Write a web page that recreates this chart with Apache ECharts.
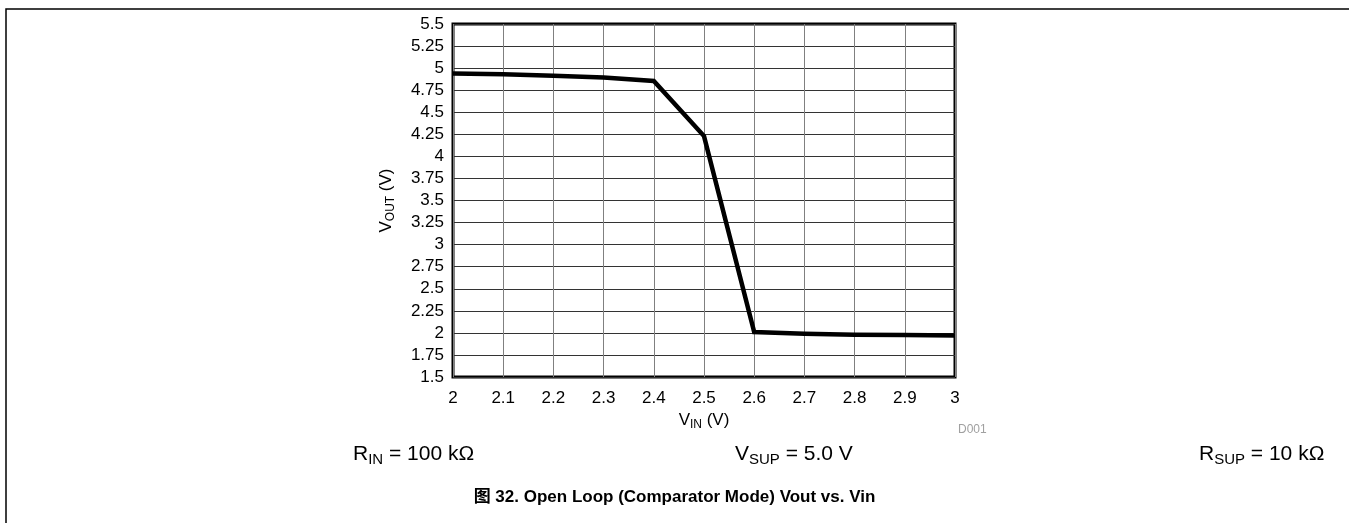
<!DOCTYPE html>
<html>
<head>
<meta charset="utf-8">
<script src="https://cdn.jsdelivr.net/npm/echarts@6/dist/echarts.min.js"></script>
<style>
  html, body { margin: 0; padding: 0; background: #fff; }
  #chart { width: 1349px; height: 523px; }
</style>
</head>
<body>
<div id="chart"></div>
<script>
// Vin (V) vs Vout (V)
const vin = [2.0, 2.1, 2.2, 2.3, 2.4, 2.5, 2.6, 2.7, 2.8, 2.9, 3.0];
const vout = [4.94, 4.93, 4.915, 4.895, 4.855, 4.23, 2.01, 1.99, 1.98, 1.975, 1.97];

const xTicks = { min: 2, max: 3, step: 0.1 };
const yTicks = { min: 1.5, max: 5.5, step: 0.25 };

const FONT = '"Liberation Sans", Arial, "Noto Sans CJK SC", sans-serif';

// sub-scripted labels share this rich style
function richStyle(size, subSize, shift) {
  return {
    b: { fontSize: size, fontFamily: FONT, color: '#000', verticalAlign: 'top', lineHeight: size },
    s: { fontSize: subSize, fontFamily: FONT, color: '#000', verticalAlign: 'top', lineHeight: subSize, padding: [shift, 0, 0, 0] }
  };
}

const chart = echarts.init(document.getElementById('chart'), null, { renderer: 'canvas' });

const option = {
  animation: false,
  backgroundColor: '#fff',
  grid: {
    left: 453, top: 24, width: 502, height: 353,
    show: true, borderColor: '#000', borderWidth: 3, backgroundColor: 'transparent'
  },
  xAxis: {
    type: 'value',
    min: xTicks.min, max: xTicks.max, interval: xTicks.step,
    axisLine: { show: false },
    axisTick: { show: false },
    axisLabel: { color: '#000', fontSize: 17, fontFamily: FONT, margin: 13 },
    splitLine: { show: true, lineStyle: { color: '#808080', width: 1 } },
    name: '{b|V}{s|IN}{b| (V)}',
    nameLocation: 'middle',
    nameGap: 34,
    nameTextStyle: { rich: richStyle(17, 12, 7) }
  },
  yAxis: {
    type: 'value',
    min: yTicks.min, max: yTicks.max, interval: yTicks.step,
    axisLine: { show: false },
    axisTick: { show: false },
    axisLabel: { color: '#000', fontSize: 17, fontFamily: FONT, margin: 9 },
    splitLine: { show: true, lineStyle: { color: '#333', width: 1 } },
    name: '{b|V}{s|OUT}{b| (V)}',
    nameLocation: 'middle',
    nameGap: 58,
    nameTextStyle: { rich: richStyle(17, 12, 7) }
  },
  series: [{
    type: 'line',
    data: vin.map((x, i) => [x, vout[i]]),
    showSymbol: false,
    lineStyle: { color: '#000', width: 4.5, join: 'miter' },
    z: 5
  }],
  graphic: [
    {
      type: 'polyline',
      shape: { points: [[6, 523], [6, 9], [1349, 9]] },
      style: { stroke: '#000', lineWidth: 1.5, fill: null },
      silent: true
    },
    {
      type: 'text', left: 958, top: 424,
      style: { text: 'D001', fill: '#a0a0a0', font: '12px ' + FONT }
    },
    {
      type: 'text', left: 353, top: 444,
      style: { text: '{b|R}{s|IN}{b| = 100 kΩ}', rich: richStyle(21, 15, 8) }
    },
    {
      type: 'text', left: 735, top: 444,
      style: { text: '{b|V}{s|SUP}{b| = 5.0 V}', rich: richStyle(21, 15, 8) }
    },
    {
      type: 'text', left: 1199, top: 444,
      style: { text: '{b|R}{s|SUP}{b| = 10 kΩ}', rich: richStyle(21, 15, 8) }
    },
    {
      type: 'text', left: 'center', top: 489,
      style: { text: '图 32. Open Loop (Comparator Mode) Vout vs. Vin', fill: '#000', font: 'bold 17px ' + FONT }
    }
  ]
};

chart.setOption(option);
</script>
</body>
</html>
